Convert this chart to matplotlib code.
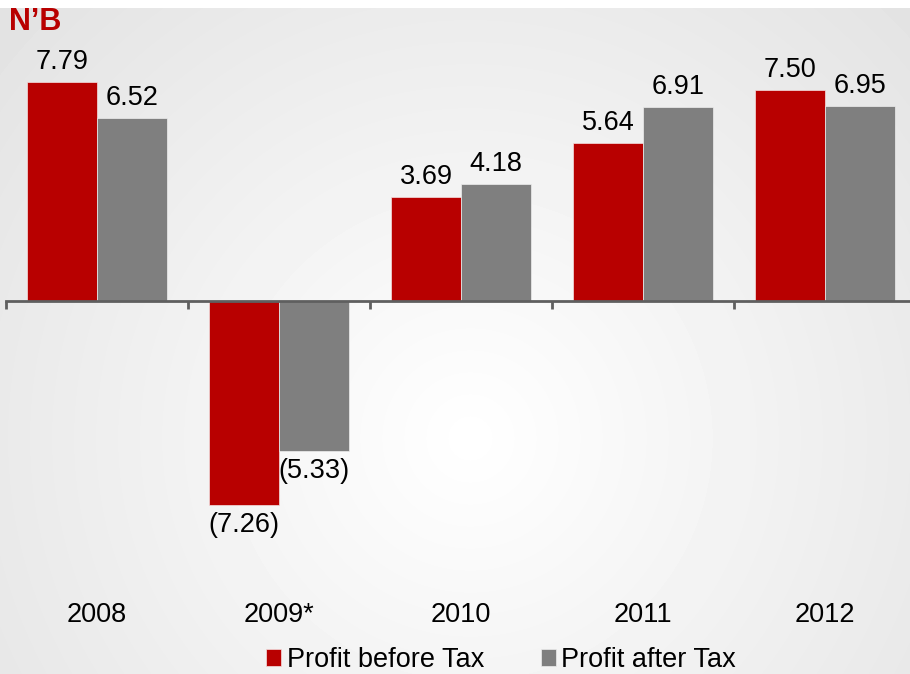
import numpy as np
import matplotlib.pyplot as plt

years = ["2008", "2009*", "2010", "2011", "2012"]
before_tax = [7.79, -7.26, 3.69, 5.64, 7.50]
after_tax = [6.52, -5.33, 4.18, 6.91, 6.95]

red = "#B80000"
grey = "#7F7F7F"

plt.rcParams['font.family'] = ['Liberation Sans', 'DejaVu Sans']

W, H = 910, 674
fig = plt.figure(figsize=(W / 100, H / 100), dpi=100)

# fond en degrade radial
bg = fig.add_axes([0, 0, 1, (H - 8) / H])
yy, xx = np.mgrid[0:H - 8, 0:W]
d = np.sqrt((xx - 470) ** 2 + (yy - 430) ** 2) / 620
v = 1 - 0.11 * np.clip(d, 0, 1.3)
bg.imshow(v, cmap="gray", vmin=0, vmax=1, aspect="auto", extent=[0, W, 0, H - 8], origin="upper")
bg.axis("off")

ax = fig.add_axes([6 / W, 0, 1.0, 1.0])
ax.patch.set_alpha(0)
ppu = 28.1  # pixels par unite
ax.set_ylim(-(H - 301) / ppu, 301 / ppu)
ax.set_xlim(-0.5, 4.5)

x = np.arange(len(years))
w = 0.385
ax.bar(x - w / 2, before_tax, w, color=red, edgecolor="#f4e0e0", linewidth=0.5, label="Profit before Tax", zorder=2)
ax.bar(x + w / 2, after_tax, w, color=grey, edgecolor="#eeeeee", linewidth=0.5, label="Profit after Tax", zorder=2)

fs = 19.5
for i in range(len(years)):
    for xi, val in ((x[i] - w / 2, before_tax[i]), (x[i] + w / 2, after_tax[i])):
        if val >= 0:
            ax.text(xi, val + 20 / ppu, f"{val:.2f}", ha="center", va="center", fontsize=fs)
        else:
            ax.text(xi, val - 20 / ppu, f"({-val:.2f})", ha="center", va="center", fontsize=fs)
    ax.text(x[i], -(615 - 301) / ppu, years[i], ha="center", va="center", fontsize=fs)

for s in ["top", "right", "left"]:
    ax.spines[s].set_visible(False)
ax.spines["bottom"].set_position(("data", 0))
ax.spines["bottom"].set_color("#5f5f5f")
ax.spines["bottom"].set_linewidth(2)
ax.set_yticks([])
ax.set_xticks([])
ax.set_xticks(np.arange(-0.5, 5, 1), minor=True)
ax.tick_params(axis="x", which="minor", length=6, width=2, color="#5f5f5f", direction="out")

fig.text(9 / W, 1 - 22 / H, "N\u2019B", color=red, fontsize=22, fontweight="bold", va="center", ha="left")

fig.legend(loc="center", bbox_to_anchor=(501 / W, 1 - 660 / H), ncol=2, frameon=False, fontsize=fs,
           handlelength=0.55, handleheight=0.55, handletextpad=0.2, columnspacing=2.1, borderpad=0)

fig.savefig("out.png", dpi=100)
